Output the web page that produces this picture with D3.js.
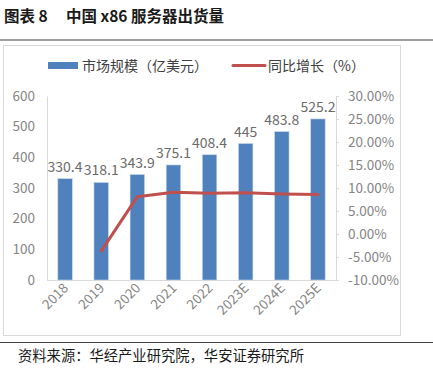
<!DOCTYPE html>
<html><head><meta charset="utf-8">
<script src="https://cdn.jsdelivr.net/npm/d3@7"></script>
<style>
html,body{margin:0;padding:0;background:#fff;}
text{font-family:"Noto Sans CJK SC","Noto Sans",sans-serif;}
</style></head>
<body>
<svg id="c" width="433" height="376"></svg>
<script>
const categories = ["2018","2019","2020","2021","2022","2023E","2024E","2025E"];
const marketSize = [330.4,318.1,343.9,375.1,408.4,445,483.8,525.2];
const growth = [null,-3.72,8.11,9.07,8.88,8.96,8.72,8.56];
const leftTicks = [0,100,200,300,400,500,600];
const rightTicks = [-10,-5,0,5,10,15,20,25,30];
const seriesNames = ["市场规模（亿美元）","同比增长（%）"];
const titleParts = ["图表 8","中国 x86 服务器出货量"];
const sourceText = "资料来源：华经产业研究院，华安证券研究所";

const svg = d3.select("#c");
const plotL = 47, plotR = 336, plotT = 96, plotB = 280;

// title
svg.append("text").attr("x",4).attr("y",22).attr("font-size",15.5).attr("font-weight","bold")
  .attr("fill","#1a1a1a").text(titleParts[0]);
svg.append("text").attr("x",66).attr("y",22).attr("font-size",15.5).attr("font-weight","bold")
  .attr("fill","#1a1a1a").text(titleParts[1]);
svg.append("line").attr("x1",0).attr("x2",433).attr("y1",40).attr("y2",40).attr("stroke","#404040").attr("stroke-width",1.2);
// chart frame
svg.append("rect").attr("x",3.5).attr("y",45.5).attr("width",397).attr("height",290).attr("fill","none").attr("stroke","#d9d9d9");
svg.append("line").attr("x1",0).attr("x2",433).attr("y1",342.5).attr("y2",342.5).attr("stroke","#404040").attr("stroke-width",1.2);
svg.append("text").attr("x",18).attr("y",361).attr("font-size",14.3).attr("fill","#1a1a1a").text(sourceText);

const x = d3.scaleBand().domain(categories).range([plotL,plotR]).paddingInner(0.6).paddingOuter(0.3);
const yL = d3.scaleLinear().domain([0,600]).range([plotB,plotT]);
const yR = d3.scaleLinear().domain([-10,30]).range([plotB,plotT]);

// left axis
const gL = svg.append("g").attr("transform",`translate(${plotL},0)`)
  .call(d3.axisLeft(yL).tickValues(leftTicks).tickSize(0).tickPadding(12));
gL.select(".domain").attr("stroke","#d9d9d9");
gL.selectAll("text").attr("font-size",13.5).attr("fill","#858585").attr("font-family","\"Noto Sans CJK SC\",sans-serif");

// right axis
const gR = svg.append("g").attr("transform",`translate(${plotR},0)`)
  .call(d3.axisRight(yR).tickValues(rightTicks).tickSize(3).tickPadding(9).tickFormat(d=>d.toFixed(2)+"%"));
gR.select(".domain").attr("stroke","#d9d9d9");
gR.selectAll("line").attr("stroke","#d9d9d9");
gR.selectAll("text").attr("font-size",13.5).attr("fill","#858585").attr("font-family","\"Noto Sans CJK SC\",sans-serif");

// bottom axis
const gB = svg.append("g").attr("transform",`translate(0,${plotB})`)
  .call(d3.axisBottom(x).tickSize(0).tickPadding(0));
gB.select(".domain").attr("stroke","#d9d9d9");
gB.selectAll("text").attr("font-size",13.5).attr("fill","#858585").attr("font-family","\"Noto Sans CJK SC\",sans-serif")
  .attr("text-anchor","end").attr("dy",0)
  .attr("transform","translate(4,9) rotate(-45)");

// bars
svg.append("g").selectAll("rect").data(categories).join("rect")
  .attr("x",d=>x(d)).attr("width",x.bandwidth())
  .attr("y",(d,i)=>yL(marketSize[i])).attr("height",(d,i)=>plotB-yL(marketSize[i]))
  .attr("fill","#4f81bd").attr("stroke","#c5d5ea").attr("stroke-width",0.6);

// bar labels
svg.append("g").selectAll("text").data(categories).join("text")
  .attr("x",d=>x(d)+x.bandwidth()/2).attr("y",(d,i)=>yL(marketSize[i])-7)
  .attr("text-anchor","middle").attr("font-size",14).attr("fill","#6a6a6a")
  .text((d,i)=>marketSize[i]);

// growth line
const pts = categories.map((c,i)=>({c,v:growth[i]})).filter(p=>p.v!==null);
svg.append("path").datum(pts)
  .attr("d",d3.line().x(p=>x(p.c)+x.bandwidth()/2).y(p=>yR(p.v)))
  .attr("fill","none").attr("stroke","#c0504d").attr("stroke-width",3).attr("stroke-linecap","round").attr("stroke-linejoin","round");

// legend
const lg = svg.append("g");
lg.append("rect").attr("x",48).attr("y",62).attr("width",30).attr("height",7).attr("fill","#4f81bd");
lg.append("text").attr("x",82).attr("y",70.5).attr("font-size",14).attr("fill","#404040").text(seriesNames[0]);
lg.append("line").attr("x1",233).attr("x2",265).attr("y1",65.5).attr("y2",65.5).attr("stroke","#c0504d").attr("stroke-width",3).attr("stroke-linecap","round");
lg.append("text").attr("x",268).attr("y",70.5).attr("font-size",14).attr("fill","#404040").text(seriesNames[1]);
</script>
</body></html>
